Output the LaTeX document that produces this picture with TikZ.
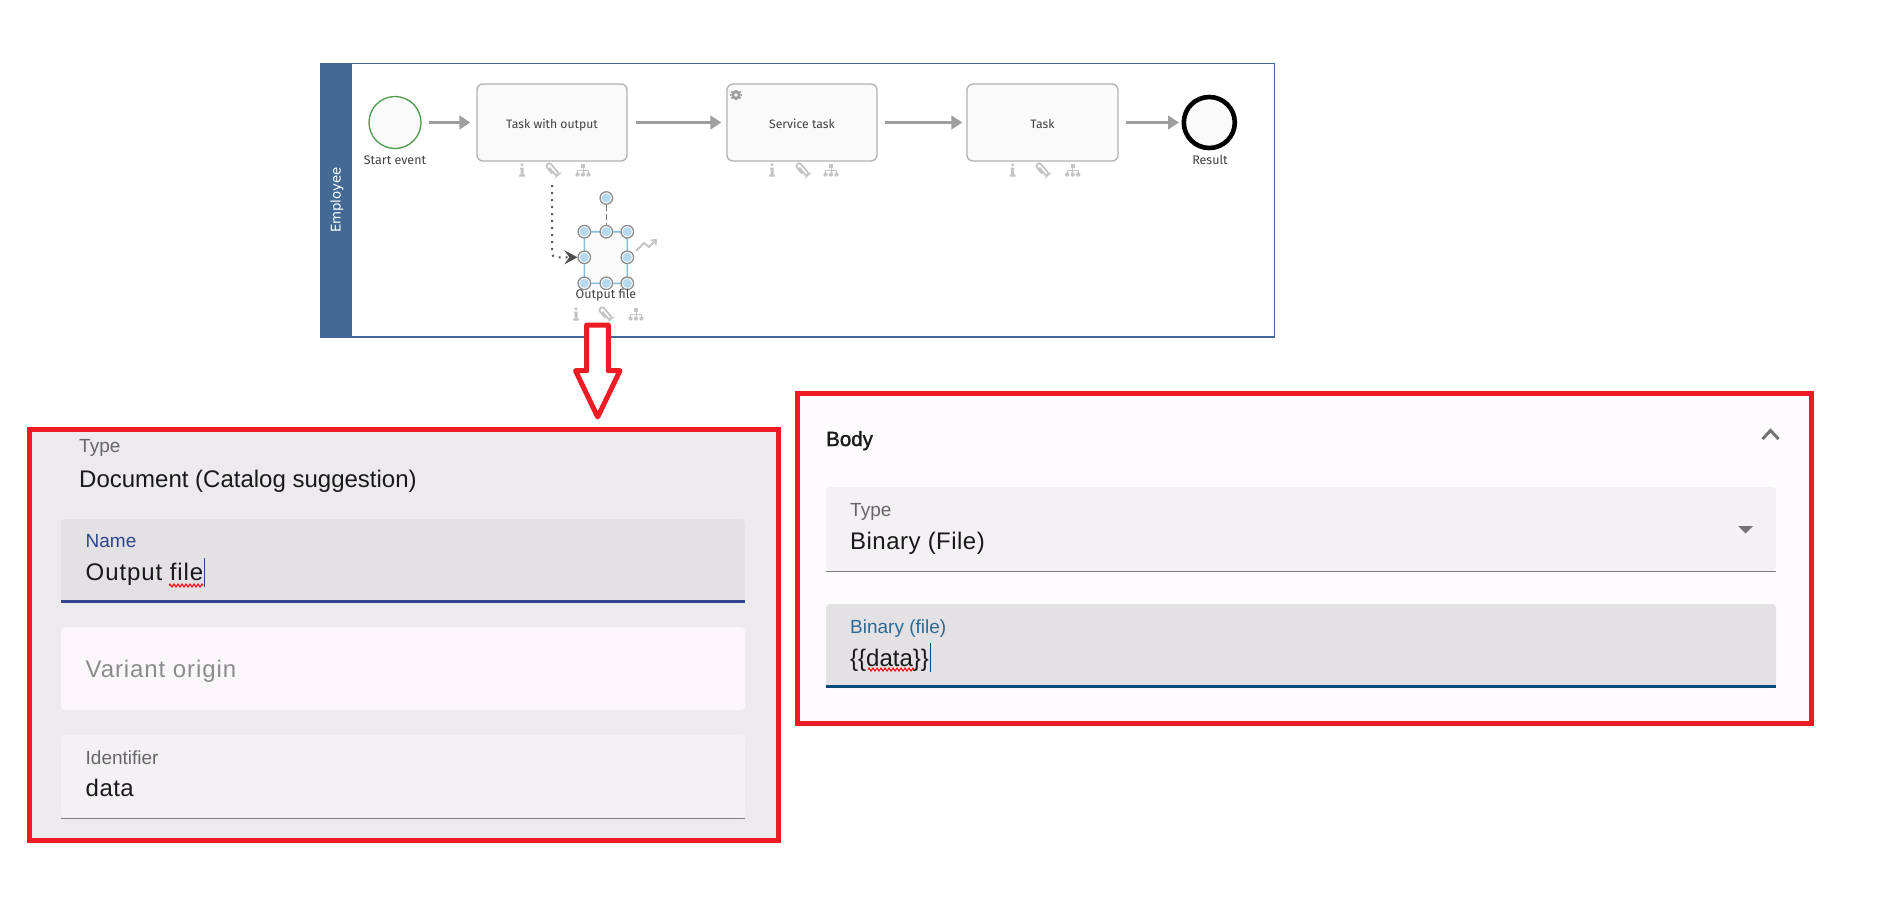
\documentclass[tikz,border=0pt]{standalone}
\usepackage{fontspec}
\setmainfont{Liberation Sans}
\newfontfamily\bpmnfont{Fira Sans}
\newfontfamily\poolfont{DejaVu Sans}
\newfontfamily\spacedfont[LetterSpace=3.8]{Liberation Sans}
\newfontfamily\widefont[LetterSpace=2]{Liberation Sans}
\newfontfamily\bodyfont[FakeBold=1.5]{Liberation Sans}
\usetikzlibrary{positioning,arrows.meta,decorations.pathmorphing}
\definecolor{boxred}{HTML}{ED1C24}
\definecolor{poolblue}{HTML}{436A94}
\definecolor{iconsgray}{HTML}{C4C4C4}
\definecolor{flowgray}{HTML}{9E9E9E}
\definecolor{handleblue}{HTML}{B5D9EE}
\definecolor{docblue}{HTML}{85BFDF}
\definecolor{panelgray}{HTML}{ECEAED}
\definecolor{panelwhite}{HTML}{FDFBFE}
\definecolor{fieldlight}{HTML}{F4F1F5}
\definecolor{fieldfocus}{HTML}{E4E1E5}
\definecolor{fieldpale}{HTML}{FAF6FB}
\definecolor{namedark}{HTML}{2F4591}
\definecolor{filedark}{HTML}{00497A}
\tikzset{
  x=1pt,y=-1pt,
  task/.style={draw=black!30,line width=1.3pt,fill=black!2,rounded corners=6pt,minimum height=77pt,font=\bpmnfont\fontsize{12.2}{15}\selectfont,text=black!75,inner sep=0pt,text height=13pt,text depth=2pt},
  bpmnlabel/.style={font=\bpmnfont\fontsize{12.5}{15}\selectfont,text=black!75,inner sep=0pt},
  flow/.style={flowgray,line width=3.2pt,-{Triangle[length=11pt,width=13.5pt]}},
  redbox/.style={draw=boxred,line width=5pt,anchor=north west,inner sep=0pt},
  fieldlabel/.style={anchor=base west,inner sep=0pt,font=\fontsize{19}{22}\selectfont,text=black!60},
  fieldtext/.style={anchor=base west,inner sep=0pt,font=\fontsize{24}{28}\selectfont,text=black!90},
  handle/.style={circle,draw=black!45,line width=1.3pt,fill=white,minimum size=12.5pt,inner sep=0pt},
  spell/.style={red,line width=1pt,decorate,decoration={zigzag,segment length=4pt,amplitude=1.5pt}},
  infoicon/.pic={
    \fill[iconsgray] (0,-5.2) circle (1.7);
    \fill[iconsgray] (-2,-2.5) -- (1.5,-2.5) -- (1.5,4.5) -- (3,4.5) -- (3,6.5) -- (-3,6.5) -- (-3,4.5) -- (-1.5,4.5) -- (-1.5,-1) -- (-2,-1) -- cycle;
  },
  clipicon/.pic={
    \draw[iconsgray,line width=1.8pt,rotate=40,rounded corners=2.4pt] (-2.2,3) -- (-2.2,-7.5) -- (3,-7.5) -- (3,7.5) -- (-0.6,7.5) -- (-0.6,-3.5);
  },
  orgicon/.pic={
    \fill[iconsgray] (-2,-6.5) rectangle (2,-2.5);
    \draw[iconsgray,line width=1pt] (0,-3) -- (0,3) (-5.5,3) -- (-5.5,0.5) -- (5.5,0.5) -- (5.5,3);
    \foreach \ix in {-5.5,0,5.5} \fill[iconsgray] (\ix,4.5) circle (2.2);
  },
}
\begin{document}
\begin{tikzpicture}
\useasboundingbox (0,0) rectangle (1879,903);
\fill[white] (0,0) rectangle (1879,903);

%---------------------Pool------------------%
\node[draw=poolblue,line width=1.3pt,outer sep=0pt,fill=white,anchor=north west,minimum width=954pt,minimum height=273.5pt,inner sep=0pt] (pool) at (320.5,63.5) {};
\node[fill=poolblue,anchor=north west,minimum width=32pt,minimum height=274pt,inner sep=0pt] (header) at (320,63) {};
\node[rotate=90,text=white,inner sep=0pt,font=\poolfont\fontsize{13.3}{16}\selectfont] (employee) at (337,200) {Employee};

%---------------------Events and tasks------------------%
\node[circle,draw={rgb,255:red,76;green,154;blue,76},line width=1.3pt,fill=black!2,minimum size=52pt,inner sep=0pt] (start) at (395,122.5) {};
\node[bpmnlabel] (startlabel) at (395,160) {Start event};
\node[task,minimum width=150pt] (taskoutput) at (552,122.5) {Task with output};
\node[task,minimum width=150pt] (taskservice) at (802,122.5) {Service task};
\node[task,minimum width=151pt] (taskplain) at (1042.5,122.5) {Task};
\node[circle,draw=black,line width=4.6pt,fill=black!2,minimum size=51pt,inner sep=0pt] (result) at (1209.3,122.5) {};
\node[bpmnlabel] (resultlabel) at (1210,160) {Result};

%---------------------Gear------------------%
\node[circle,draw=flowgray,line width=2.8pt,minimum size=6.5pt,inner sep=0pt] (gear) at (736,95) {};
\foreach \ang in {0,45,...,315}
  \draw[flowgray,line width=2.2pt] (gear.\ang) -- ++(\ang:1.6);

%---------------------Flows------------------%
\draw[flow,shorten <=7.5pt,shorten >=6pt] (start) -- (taskoutput);
\draw[flow,shorten <=8pt,shorten >=5pt] (taskoutput) -- (taskservice);
\draw[flow,shorten <=7pt,shorten >=4pt] (taskservice) -- (taskplain);
\draw[flow,shorten <=7.7pt,shorten >=2.5pt] (taskplain) -- (result);

%---------------------Icons------------------%
\foreach \ix/\iy in {522/170,772/170,1012.7/170,576/314}
  \pic at (\ix,\iy) {infoicon};
\foreach \ix/\iy in {552/170,802/170,1042/170,605/314}
  \pic at (\ix,\iy) {clipicon};
\foreach \ix/\iy in {583/170,831/170,1072.7/170,636/314}
  \pic at (\ix,\iy) {orgicon};

%---------------------Output file------------------%
\draw[docblue,line width=1.6pt,fill=black!2] (584.3,231.7) -- (620,231.7) -- (627.3,239.3) -- (627.3,283.3) -- (584.3,283.3) -- cycle;
\foreach \hname/\ix/\iy in {ha/584.3/231.7,hb/606.3/231.7,hc/627.3/231.7,hd/584.3/257.3,he/627.3/257.3,hf/584.3/283.3,hg/606.3/283.3,hh/627.3/283.3,hi/606.3/198}{
  \node[handle] (\hname) at (\ix,\iy) {};
  \fill[handleblue] (\hname) circle (4.6);
}
\draw[black!55,line width=1pt,dash pattern=on 6pt off 3pt] (hi) -- (hb);
\coordinate (dotstart) at (552,185);
\draw[black!65,line width=2pt,dash pattern=on 2pt off 5pt,rounded corners=4pt,-{Stealth[length=13pt,width=14pt,inset=5pt,black!70]}] (dotstart) |- (hd);
\node[bpmnlabel] (outputlabel) at (606,295) {Output file};
\draw[iconsgray,line width=1.8pt,-{Straight Barb[length=4pt,width=7pt]}] (636,251) -- (644,243) -- (649,247) -- (657,239);

%---------------------Red arrow------------------%
\draw[boxred,line width=5pt,fill=white,line join=round] (586.7,325) -- (608.3,325) -- (608.3,370.7) -- (620,370.7) -- (597.7,417) -- (575.5,370.7) -- (586.7,370.7) -- cycle;

%---------------------Left panel------------------%
\node[redbox,fill=panelgray,minimum width=749pt,minimum height=411pt] (leftpanel) at (27,427) {};
\node[fieldlabel] (typeleft) at (79,452.7) {Type};
\node[fieldtext] (docsugg) at (79,487.7) {Document (Catalog suggestion)};
\fill[fieldfocus,rounded corners=4pt] (61,603) -- (61,519) -- (745,519) -- (745,603) -- cycle;
\fill[namedark] (61,600) rectangle (745,603);
\node[fieldlabel,text=namedark] (namelabel) at (85.5,547.7) {Name};
\node[fieldtext] (nametext) at (85.5,580.7) {\spacedfont Output file};
\draw[spell] (169,585.5) -- (203,585.5);
\draw[namedark,line width=1pt] (204.5,558) -- (204.5,587);
\fill[fieldpale,rounded corners=4pt] (61,710) -- (61,627) -- (745,627) -- (745,710) -- cycle;
\node[fieldtext,text=black!45] (variant) at (85.5,677.7) {\spacedfont Variant origin};
\fill[fieldlight,rounded corners=4pt] (61,818) -- (61,735) -- (745,735) -- (745,818) -- cycle;
\draw[black!50,line width=1pt] (61,818) -- (745,818);
\node[fieldlabel] (identlabel) at (85.5,764) {Identifier};
\node[fieldtext] (identtext) at (85.5,796.7) {\widefont data};

%---------------------Right panel------------------%
\node[redbox,fill=panelwhite,minimum width=1014pt,minimum height=330pt] (rightpanel) at (795,391) {};
\node[anchor=base west,inner sep=0pt,font=\bodyfont\fontsize{20.5}{24}\selectfont,text=black!90] (bodylabel) at (826,446) {Body};
\draw[black!55,line width=3pt] (1762.5,439) -- (1770.5,430.5) -- (1778.5,439);
\fill[fieldlight,rounded corners=4pt] (826,571) -- (826,487) -- (1776,487) -- (1776,571) -- cycle;
\draw[black!50,line width=1pt] (826,571) -- (1776,571);
\node[fieldlabel] (typeright) at (850,516) {Type};
\node[fieldtext] (binarytype) at (850,549) {\widefont Binary (File)};
\fill[black!55] (1738,526) -- (1753,526) -- (1745.5,533.5) -- cycle;
\fill[fieldfocus,rounded corners=4pt] (826,688) -- (826,604) -- (1776,604) -- (1776,688) -- cycle;
\fill[filedark] (826,685) rectangle (1776,688);
\node[fieldlabel,text={rgb,255:red,43;green,106;blue,150}] (binarylabel) at (850,633) {Binary (file)};
\node[fieldtext] (datatext) at (850,666) {\{\{data\}\}};
\draw[spell] (868,669.5) -- (914,669.5);
\draw[filedark,line width=1pt] (930,643) -- (930,672);
\end{tikzpicture}
\end{document}
